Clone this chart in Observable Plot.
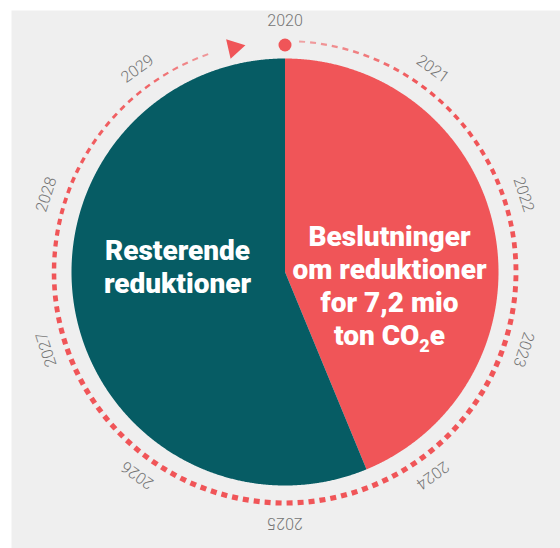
<!DOCTYPE html>
<html>
<head>
<meta charset="utf-8">
<script src="https://cdn.jsdelivr.net/npm/d3@7"></script>
<script src="https://cdn.jsdelivr.net/npm/@observablehq/plot@0.6"></script>
<style>
  html, body { margin: 0; padding: 0; background: #ffffff; }
  #chart svg { display: block; }
</style>
</head>
<body>
<div id="chart"></div>
<script>
// ---- data ----
const sliceNames = ["Beslutninger", "Resterende"];
const sliceValues = [7.2, 9.25];        // mio ton CO2e (decided vs remaining)
const sliceColors = ["#f05558", "#065c64"];
const sliceLabels = ["Beslutninger\nom reduktioner\nfor 7,2 mio\nton CO₂e", "Resterende\nreduktioner"];
const years = ["2020","2021","2022","2023","2024","2025","2026","2027","2028","2029"];
// ring dash thickness (px) and opacity read at angle stops (degrees clockwise from top)
const ringAngles  = [0,   36,  72,  108, 252, 288, 324, 346];
const ringWidths  = [1.8, 3.2, 4.5, 5.2, 5.2, 3.8, 2.4, 1.8];
const ringOpacity = [0.45,1,   1,   1,   1,   1,   0.9, 0.45];

// ---- layout ----
const W = 560, H = 548;
const cx = 284.5, cy = 271.5;
const R = 213.5, ringR = 231, labelR = 251;
const red = "#f05558";

const rad = d => d * Math.PI / 180;
const polar = (deg, r) => [r * Math.sin(rad(deg)), -r * Math.cos(rad(deg))];

// pie polygons
const total = d3.sum(sliceValues);
const pieRows = [];
let start = 0;
sliceValues.forEach((v, i) => {
  const end = start + v / total * 360;
  pieRows.push({s: sliceNames[i], x: 0, y: 0});
  for (let a = start; a <= end + 1e-9; a += 0.25) {
    const [x, y] = polar(Math.min(a, end), R);
    pieRows.push({s: sliceNames[i], x, y});
  }
  const [xe, ye] = polar(end, R);
  pieRows.push({s: sliceNames[i], x: xe, y: ye});
  start = end;
});

// dashes along the ring
const wScale = d3.scaleLinear().domain(ringAngles).range(ringWidths).clamp(true);
const oScale = d3.scaleLinear().domain(ringAngles).range(ringOpacity).clamp(true);
const period = 11 / ringR * 180 / Math.PI;
const dashLen = 6 / ringR * 180 / Math.PI;
const dashes = [];
for (let a = 3.5; a + dashLen < 341; a += period) {
  const [x1, y1] = polar(a, ringR);
  const [x2, y2] = polar(a + dashLen, ringR);
  dashes.push({x1, y1, x2, y2, w: wScale(a + dashLen / 2), o: oScale(a + dashLen / 2)});
}
const arrowAngle = -12.8;
const [ax, ay] = polar(arrowAngle, ringR - 1);
const [dx0, dy0] = polar(0, ringR - 4);

const yearRows = years.map((y, i) => {
  const a = i * 36;
  const [x, yy] = polar(a, labelR);
  return {label: y, x, y: yy, rot: a};
});

// label positions
const labelRows = [
  {text: sliceLabels[0], x: 389 - cx, y: 284 - cy},
  {text: sliceLabels[1], x: 177 - cx, y: 265 - cy}
];

const chart = Plot.plot({
  width: W, height: H,
  margin: 0,
  x: {domain: [-cx, W - cx], range: [0, W], axis: null},
  y: {domain: [-cy, H - cy], range: [0, H], axis: null},
  style: {fontFamily: "Roboto, sans-serif", background: "#ffffff"},
  marks: [
    Plot.frame({fill: "#efefef", stroke: "none", insetLeft: 11, insetTop: 10}),
    Plot.line(pieRows, {x: "x", y: "y", z: "s", fill: d => sliceColors[sliceNames.indexOf(d.s)], stroke: "none", curve: "linear-closed"}),
    Plot.link(dashes, {x1: "x1", y1: "y1", x2: "x2", y2: "y2", stroke: red, strokeWidth: "w", strokeOpacity: "o", strokeLinecap: "butt"}),
    Plot.dot([{x: dx0, y: dy0}], {x: "x", y: "y", r: 6.5, fill: red, stroke: "none"}),
    Plot.dot([{x: ax, y: ay}], {x: "x", y: "y", r: 7.5, symbol: "triangle", fill: red, stroke: "none", rotate: 90 + arrowAngle}),
    Plot.text(yearRows, {x: "x", y: "y", text: "label", rotate: "rot", fontSize: 16, fontWeight: 300, fill: "#757575", textAnchor: "middle"}),
    Plot.text(labelRows, {x: "x", y: "y", text: "text", fontSize: 28, fontWeight: 900, fill: "#ffffff", textAnchor: "middle", lineHeight: 1.18})
  ]
});
// render the subscript of CO2 as a lowered, smaller digit
chart.querySelectorAll("tspan").forEach(t => {
  if (t.textContent.includes("₂")) {
    const [a, b] = t.textContent.split("₂");
    t.textContent = a;
    const ns = "http://www.w3.org/2000/svg";
    const sub = document.createElementNS(ns, "tspan");
    sub.setAttribute("font-size", "18");
    sub.setAttribute("dy", "7");
    sub.textContent = "2";
    const rest = document.createElementNS(ns, "tspan");
    rest.setAttribute("dy", "-7");
    rest.textContent = b;
    t.after(sub, rest);
  }
});
document.getElementById("chart").appendChild(chart);
</script>
</body>
</html>
